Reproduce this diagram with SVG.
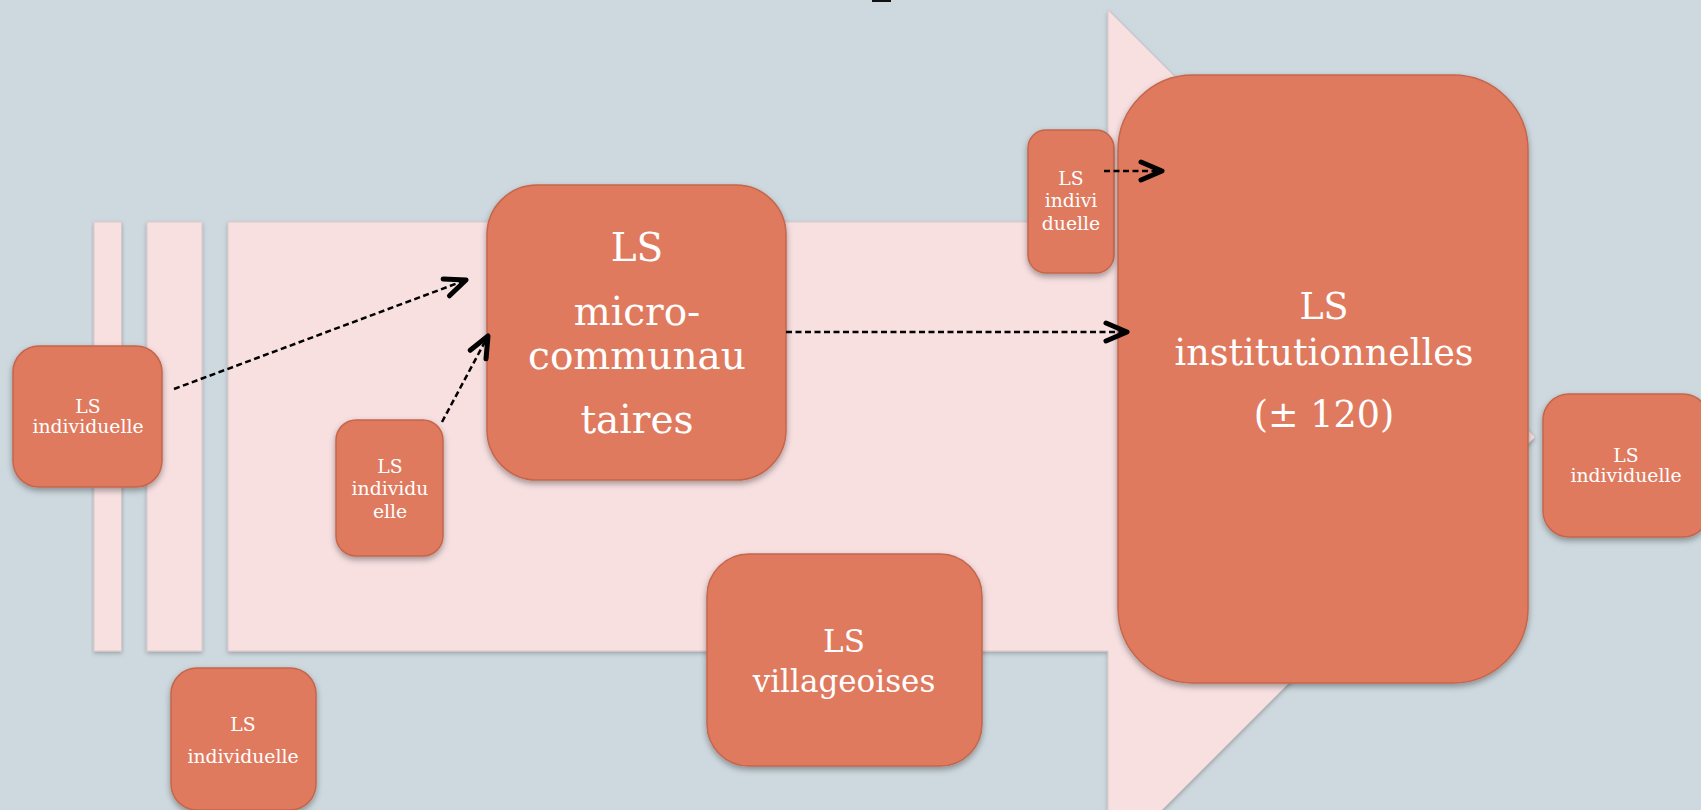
<svg xmlns="http://www.w3.org/2000/svg" width="1701" height="810" viewBox="0 0 1701 810">
  <defs>
    <filter id="sh" x="-20%" y="-20%" width="140%" height="140%">
      <feDropShadow dx="0" dy="3" stdDeviation="3" flood-color="#000" flood-opacity="0.35"/>
    </filter>
    <filter id="shl" x="-10%" y="-10%" width="120%" height="120%">
      <feDropShadow dx="0" dy="2" stdDeviation="2" flood-color="#000" flood-opacity="0.25"/>
    </filter>
    <marker id="chev" markerUnits="userSpaceOnUse" viewBox="-26 -14 30 28" markerWidth="30" markerHeight="28" refX="0" refY="0" orient="auto">
      <path d="M -21,-9 L 0,0 L -21,9" fill="none" stroke="#000" stroke-width="5" stroke-linecap="round" stroke-linejoin="round"/>
    </marker>
  </defs>
  <style>
    .bg { fill: #CED9DF; }
    .pink { fill: #F8E0E1; stroke: #D9C7C8; stroke-width: 1; filter: url(#shl); }
    .box { fill: #E07A5E; stroke: #C4664C; stroke-width: 1.5; filter: url(#sh); }
    .t { font-family: "DejaVu Serif", "Liberation Serif", serif; fill: #FFFFFF; text-anchor: middle; }
    .s { font-size: 18.8px; }
    .conn { fill: none; stroke: #000; stroke-width: 2.5; stroke-dasharray: 6 3.5; marker-end: url(#chev); }
  </style>
  <rect class="bg" x="0" y="0" width="1701" height="810"/>
  <rect x="872" y="0" width="19" height="2" fill="#111"/>

  <g id="arrow-shape">
    <polygon class="pink" points="228,222 1108,222 1108,10 1535,437 1108,864 1108,651 228,651"/>
    <rect class="pink" x="94" y="222" width="27.5" height="429"/>
    <rect class="pink" x="147" y="222" width="55" height="429"/>
  </g>

  <g id="node-left">
    <rect class="box" x="13" y="346" width="149" height="141" rx="26"/>
    <text class="t s" x="88" y="413">LS</text>
    <text class="t s" x="88" y="433">individuelle</text>
  </g>

  <g id="node-bottom-left">
    <rect class="box" x="171" y="668" width="145" height="142" rx="26"/>
    <text class="t s" x="243" y="731">LS</text>
    <text class="t s" x="243" y="763">individuelle</text>
  </g>

  <g id="node-small">
    <rect class="box" x="336" y="420" width="107" height="136" rx="20"/>
    <text class="t s" x="390" y="473">LS</text>
    <text class="t s" x="390" y="495">individu</text>
    <text class="t s" x="390" y="518">elle</text>
  </g>

  <g id="node-micro">
    <rect class="box" x="487" y="185" width="299" height="295" rx="50"/>
    <text class="t" font-size="39" x="637" y="261">LS</text>
    <text class="t" font-size="39" x="637" y="325">micro-</text>
    <text class="t" font-size="39" x="637" y="369">communau</text>
    <text class="t" font-size="39" x="637" y="433">taires</text>
  </g>

  <g id="node-villageoises">
    <rect class="box" x="707" y="554" width="275" height="212" rx="42"/>
    <text class="t" font-size="31" x="844" y="652">LS</text>
    <text class="t" font-size="31" x="844" y="692">villageoises</text>
  </g>

  <g id="node-top-small">
    <rect class="box" x="1028" y="130" width="86" height="143" rx="18"/>
    <text class="t s" x="1071" y="185">LS</text>
    <text class="t s" x="1071" y="207">indivi</text>
    <text class="t s" x="1071" y="230">duelle</text>
  </g>

  <g id="node-institutionnelles">
    <rect class="box" x="1118" y="75" width="410" height="608" rx="75"/>
    <text class="t" font-size="36.5" x="1324" y="319">LS</text>
    <text class="t" font-size="36.5" x="1324" y="365">institutionnelles</text>
    <text class="t" font-size="36.5" x="1324" y="427">(± 120)</text>
  </g>

  <g id="node-right">
    <rect class="box" x="1543" y="394" width="166" height="143" rx="26"/>
    <text class="t s" x="1626" y="462">LS</text>
    <text class="t s" x="1626" y="482">individuelle</text>
  </g>

  <g id="connectors">
    <line class="conn" x1="174" y1="389" x2="466" y2="280"/>
    <line class="conn" x1="442" y1="422" x2="488" y2="336"/>
    <line class="conn" x1="786" y1="332" x2="1127" y2="332"/>
    <line class="conn" x1="1104" y1="171" x2="1162" y2="171"/>
  </g>
</svg>
